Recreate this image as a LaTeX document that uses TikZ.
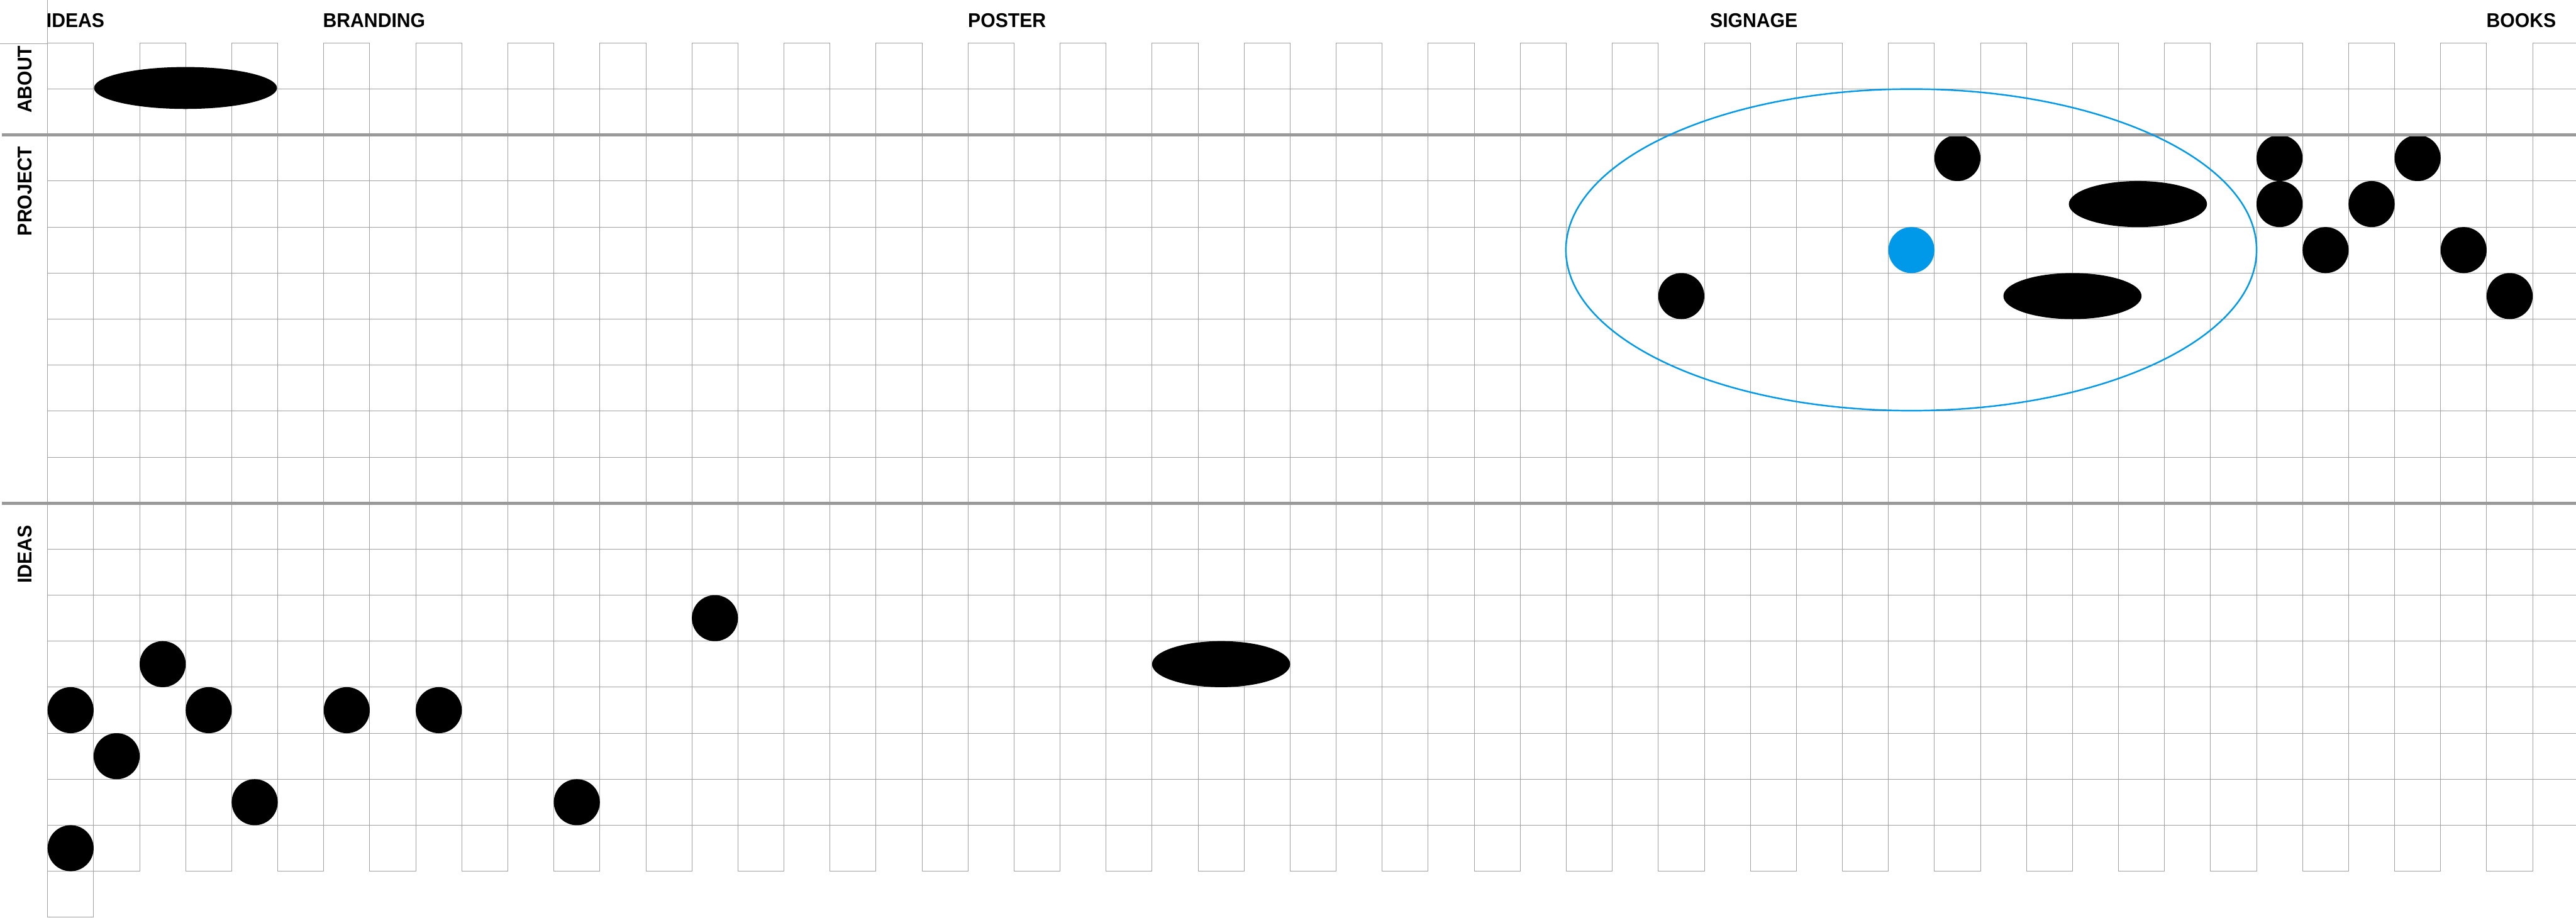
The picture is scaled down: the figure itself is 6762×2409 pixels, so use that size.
\documentclass[tikz,border=0pt]{standalone}
\usepackage{fontspec}
\newfontfamily\labfont[FakeStretch=0.95]{Liberation Sans}
\definecolor{gridgray}{RGB}{160,160,160}
\definecolor{thickgray}{RGB}{153,153,153}
\definecolor{dotblue}{RGB}{0,153,234}
\begin{document}
\begin{tikzpicture}[x=0.01cm,y=-0.01cm,
  gridline/.style={draw=gridgray,line width=0.45pt},
  sepline/.style={draw=thickgray,line width=2.4pt},
  lab/.style={inner sep=0pt,outer sep=0pt,font=\labfont\bfseries\fontsize{14.9pt}{16pt}\selectfont},
  vlab/.style={lab,rotate=90,anchor=base east},
  hlab/.style={lab,anchor=base west}]
\useasboundingbox (0,0) rectangle (6762,2409);
\def\cs{120.8}
% ---- grid ----
\foreach \k in {2,...,54} \draw[gridline] ({125+\k*\cs},113) -- ({125+\k*\cs},2287.4);
\draw[gridline] (125,0) -- (125,2408);
\draw[gridline] (245.8,113) -- (245.8,2408);
\draw[gridline] (125,2408) -- (245.8,2408);
\draw[gridline] (0,114) -- (125,114);
\foreach \k in {0,2,...,52} \draw[gridline] ({125+\k*\cs},113) -- ({125+(\k+1)*\cs},113);
\draw[gridline] ({125+54*\cs},113) -- (6762,113);
\draw[gridline] (125,2287.4) -- (245.8,2287.4);
\foreach \k in {1,3,...,53} \draw[gridline] ({125+\k*\cs},2287.4) -- ({125+(\k+1)*\cs},2287.4);
\foreach \r in {1,3,4,5,6,7,8,9,11,12,13,14,15,16,17}
  \draw[gridline] (125,{113+\r*\cs}) -- (6762,{113+\r*\cs});
% ---- dots ----
\foreach \k/\r in {0/14,2/13,3/14,1/15,4/16,0/17,6/14,8/14,11/16,14/12,
                   35/5,41/2,48/2,48/3,50/3,49/4,51/2,52/4,53/5}
  \fill[black] ({125+(\k+0.5)*\cs},{113+(\r+0.5)*\cs}) circle[radius=0.604cm];
\fill[dotblue] ({125+40.5*\cs},{113+4.5*\cs}) circle[radius=0.604cm];
% ---- ellipses ----
\fill[black] (487,231) ellipse[x radius=2.40cm,y radius=0.55cm];
\fill[black] ({125+25.5*\cs},{113+13.5*\cs}) ellipse[x radius=1.812cm,y radius=0.604cm];
\fill[black] (5612,{113+3.5*\cs}) ellipse[x radius=1.812cm,y radius=0.604cm];
\fill[black] ({125+44*\cs},{113+5.5*\cs}) ellipse[x radius=1.812cm,y radius=0.604cm];
% ---- section separators ----
\draw[sepline] (5,{113+2*\cs}) -- (6762,{113+2*\cs});
\draw[sepline] (5,{113+10*\cs}) -- (6762,{113+10*\cs});
% ---- blue ring ----
\draw[dotblue,line width=1.15pt] (5017,656) ellipse[x radius=9.06cm,y radius=4.22cm];
% ---- labels ----
\node[hlab] (hideas) at (122,72) {IDEAS};
\node[hlab] (hbranding) at (848,72) {BRANDING};
\node[hlab] (hposter) at (2541,72) {POSTER};
\node[hlab] (hsignage) at (4489,72) {SIGNAGE};
\node[hlab] (hbooks) at (6527,72) {BOOKS};
\node[vlab] (vabout) at (84,120) {ABOUT};
\node[vlab] (vproject) at (84,384) {PROJECT};
\node[vlab] (videas) at (84,1379) {IDEAS};
\end{tikzpicture}
\end{document}
